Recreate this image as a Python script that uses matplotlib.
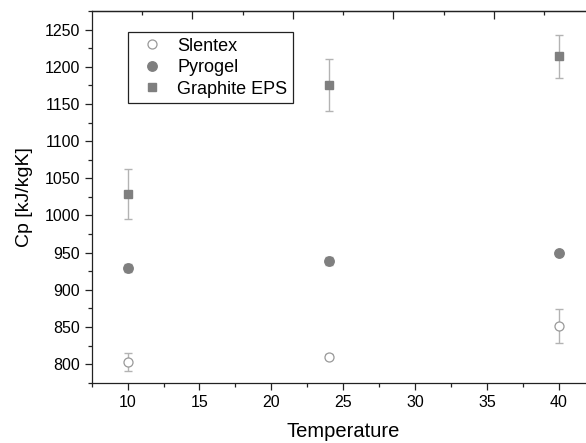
import matplotlib
matplotlib.use("Agg")
import matplotlib.pyplot as plt
from matplotlib.lines import Line2D
from matplotlib.ticker import MultipleLocator, FixedLocator, NullFormatter

plt.rcParams['font.family'] = ['Liberation Sans', 'DejaVu Sans']

temps = [10, 24, 40]
slentex = [803, 810, 851]
slentex_err = [12, 3, 23]
pyrogel = [929.5, 939, 949]
pyrogel_err = [5, 5, 2]
graphite = [1029, 1176, 1214]
graphite_err = [34, 35, 28.5]
series_labels = ["Slentex", "Pyrogel", "Graphite EPS"]
top_major = [14.5, 21.5, 28.5, 35.5]
top_minor = [11, 18, 25, 32, 39]

fig = plt.figure(figsize=(5.86, 4.43), dpi=100)
ax = fig.add_axes([0.1565, 0.1361, 0.8582, 0.8391])

mcol = '#7f7f7f'
ecol = '#b3b3b3'
ekw = dict(fmt='none', ecolor=ecol, elinewidth=1.0, capsize=3, capthick=1.0, zorder=2)
ax.errorbar(temps, slentex, yerr=slentex_err, **ekw)
ax.errorbar(temps, pyrogel, yerr=pyrogel_err, **ekw)
ax.errorbar(temps, graphite, yerr=graphite_err, **ekw)

ax.plot(temps, slentex, 'o', ms=6.5, mfc='white', mec='#999999', mew=0.9, ls='none', zorder=3)
ax.plot(temps, pyrogel, 'o', ms=6.8, mfc=mcol, mec=mcol, ls='none', zorder=3)
ax.plot(temps, graphite, 's', ms=5.8, mfc=mcol, mec=mcol, ls='none', zorder=3)

ax.set_xlim(7.5, 42.5)
ax.set_ylim(775, 1275)
ax.xaxis.set_major_locator(MultipleLocator(5))
ax.xaxis.set_minor_locator(MultipleLocator(2.5))
ax.yaxis.set_major_locator(MultipleLocator(50))
ax.yaxis.set_minor_locator(MultipleLocator(25))
ax.tick_params(which='major', direction='out', length=5, width=0.9, labelsize=11.5, color='#222222')
ax.tick_params(which='minor', direction='out', length=3, width=0.9, color='#222222')
for s in ['left', 'bottom', 'top']:
    ax.spines[s].set_linewidth(0.9)
    ax.spines[s].set_color('#222222')
ax.spines['right'].set_visible(False)

top = ax.twiny()
top.set_xlim(ax.get_xlim())
top.xaxis.set_major_locator(FixedLocator(top_major))
top.xaxis.set_minor_locator(FixedLocator(top_minor))
top.xaxis.set_major_formatter(NullFormatter())
top.tick_params(which='major', direction='in', length=6, width=0.9, color='#222222')
top.tick_params(which='minor', direction='in', length=3, width=0.9, color='#222222')
for s in ['left', 'bottom', 'right']:
    top.spines[s].set_visible(False)
top.spines['top'].set_linewidth(0.9)
top.spines['top'].set_color('#222222')

ax.set_xlabel("Temperature", fontsize=14.5, labelpad=9)
ax.set_ylabel("Cp [kJ/kgK]", fontsize=14, labelpad=8)

handles = [
    Line2D([], [], marker='o', ls='none', ms=6.5, mfc='white', mec='#999999', mew=0.9),
    Line2D([], [], marker='o', ls='none', ms=6.8, mfc=mcol, mec=mcol),
    Line2D([], [], marker='s', ls='none', ms=5.8, mfc=mcol, mec=mcol),
]
leg = ax.legend(handles, series_labels, loc='upper left', bbox_to_anchor=(0.0728, 0.9427),
                borderaxespad=0, fontsize=13, frameon=True, fancybox=False,
                edgecolor='#222222', framealpha=1, labelspacing=0.25,
                handletextpad=0.4, handlelength=2.0, borderpad=0.3)
leg.get_frame().set_linewidth(0.9)

fig.savefig("out.png", dpi=100)
